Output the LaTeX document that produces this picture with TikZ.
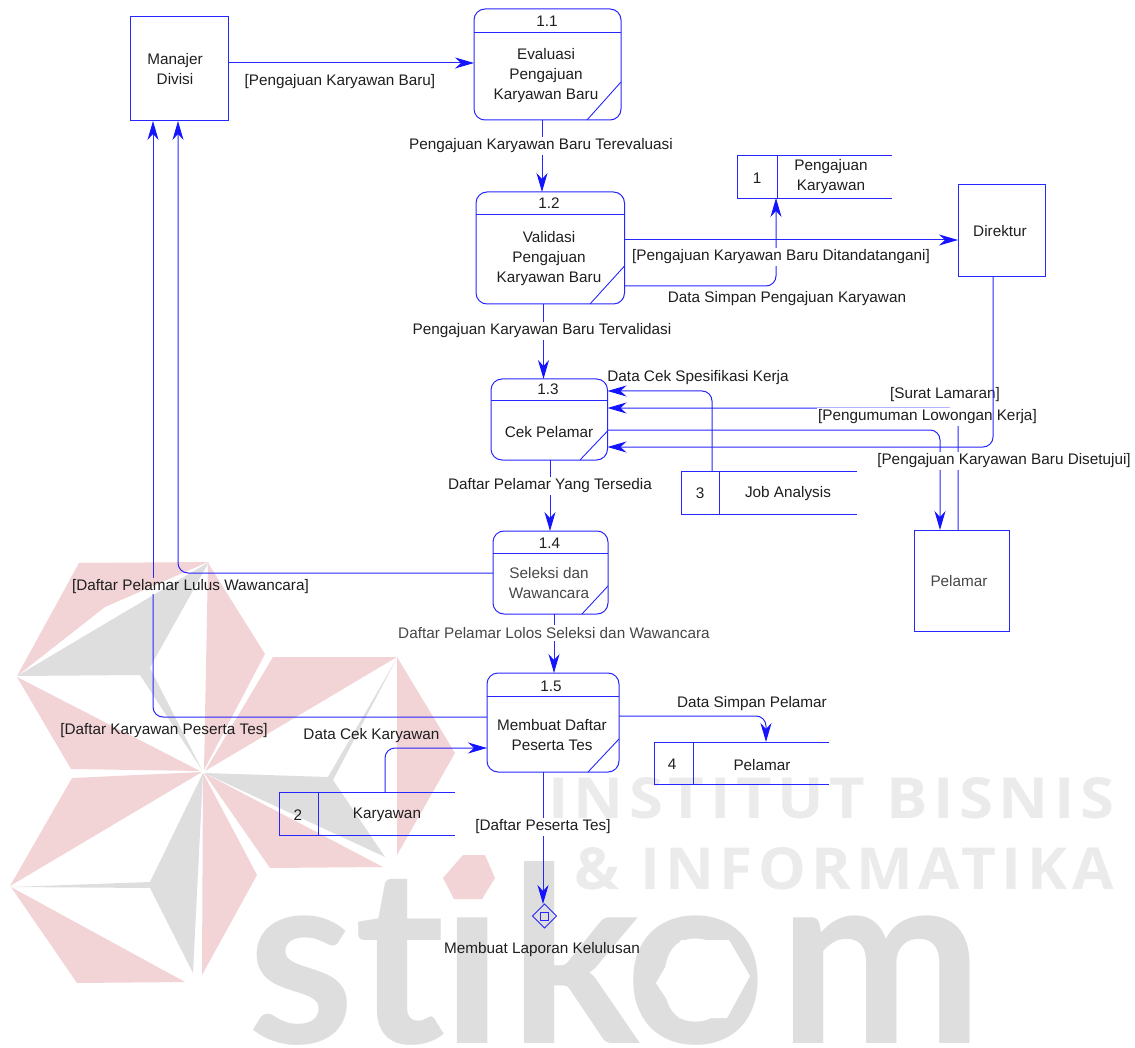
\documentclass[tikz,border=0pt]{standalone}
\usepackage{fontspec}
\usepackage{graphicx}
\setmainfont{Liberation Sans}
\newfontfamily\wmfont[LetterSpace=9]{Open Sans}
\newfontfamily\logofont{Lato}
\usetikzlibrary{arrows.meta,shapes.geometric,calc}
\definecolor{flowblue}{RGB}{38,38,255}
\definecolor{headblue}{RGB}{20,20,255}
\definecolor{wmred}{RGB}{242,211,214}
\definecolor{wmgrey}{RGB}{222,222,222}
\definecolor{wmtext}{RGB}{235,235,235}
\definecolor{txt}{RGB}{30,30,30}
\tikzset{
  every node/.style={inner sep=0pt,outer sep=0pt},
  lbl/.style={font=\fontsize{15.3}{20}\selectfont,text=txt,align=center,yshift=-1pt},
  lblw/.style={lbl,fill=white,inner xsep=1pt,inner ysep=2pt},
  dim/.style={lbl,text=black!72},
  ent/.style={draw=flowblue,line width=1pt},
  prc/.style={draw=flowblue,line width=1pt,rounded corners=11pt},
  part/.style={draw=flowblue,line width=.9pt},
  flow/.style={draw=flowblue,line width=1pt,rounded corners=10pt,
    -{Stealth[length=19pt,width=11pt,inset=6pt,color=headblue]}},
  flowplain/.style={draw=flowblue,line width=1pt,rounded corners=10pt},
}
% name, left, top, right, bottom, header y, diagonal y, diagonal x
\newcommand\procbox[8]{%
  \node[prc,minimum width={(#4-#2)*1pt},minimum height={(#5-#3)*1pt}] (#1) at ({(#2+#4)/2},{(#3+#5)/2}) {};
  \draw[part] (#2,#6) -- (#4,#6);
  \draw[part] (#4,#7) -- (#8,#5);
}
% name, left, top, right, bottom, divider x
\newcommand\storebox[6]{%
  \node[minimum width={(#4-#2)*1pt},minimum height={(#5-#3)*1pt}] (#1) at ({(#2+#4)/2},{(#3+#5)/2}) {};
  \draw[part] (#1.north east) -- (#1.north west) -- (#1.south west) -- (#1.south east);
  \draw[part] (#6,#3) -- (#6,#5);
}
\newcommand\logoglyph[2]{\makebox[#1pt][l]{#2}}
\begin{document}
\begin{tikzpicture}[x=1pt,y=-1pt]
\useasboundingbox (0,0) rectangle (1135,1048);
% ---------- watermark ----------
\fill[wmred] (17,676) -- (79,563) -- (208,562) -- (105,607) -- cycle;
\fill[wmgrey] (17,676) -- (209,562) -- (153,662) -- (150,668) -- (202,770) -- (140,675) -- cycle;
\fill[wmred] (208,563) -- (265,654) -- (204,770) -- cycle;
\fill[wmred] (273,657) -- (397,657) -- (205,771) -- cycle;
\fill[wmgrey] (397,658) -- (333,780) -- (385,857) -- (204,773) -- (328,777) -- cycle;
\fill[wmred] (397,657) -- (455,753) -- (397,855) -- cycle;
\fill[wmred] (204,773) -- (383,867) -- (270,868) -- cycle;
\fill[wmred] (203,773) -- (257,875) -- (202,975) -- cycle;
\fill[wmgrey] (203,773) -- (193,973) -- (150,888) -- (11,887) -- (150,882) -- cycle;
\fill[wmred] (11,887) -- (185,982) -- (77,983) -- cycle;
\fill[wmred] (10,886) -- (72,778) -- (202,772) -- cycle;
\fill[wmred] (17,677) -- (71,769) -- (200,771) -- cycle;
\node[anchor=base west,text=wmtext] (wm1) at (548,818) {\resizebox{566pt}{41pt}{\wmfont\bfseries INSTITUT BISNIS}};
\node[anchor=base west,text=wmtext] (wm2) at (574,889) {\resizebox{540pt}{42pt}{\wmfont\bfseries \& INFORMATIKA}};
\node[anchor=base west,text=wmgrey,font=\logofont\bfseries\fontsize{245}{245}\selectfont] (wm3) at (247,1043)
  {\logoglyph{107}{s}\logoglyph{87}{t}\logoglyph{69}{i}\logoglyph{115}{k}\logoglyph{153}{o}\logoglyph{220}{m}};
\fill[white] (681,940) -- (729,940) -- (750,976) -- (727,1018) -- (679,1018) -- (656,983) -- cycle;
\fill[white] (438,845) rectangle (505,905);
\fill[wmred] (463,855) -- (485,855) -- (495,878) -- (482,899) -- (454,899) -- (443,878) -- cycle;
% ---------- entities ----------
\node[ent,minimum width=98pt,minimum height=104pt] (m) at (179,69) {};
\node[lbl] (mt) at (175,68) {Manajer\\Divisi};
\node[ent,minimum width=87pt,minimum height=92pt] (dir) at (1001.5,231) {};
\node[lbl] (dirt) at (1000,230) {Direktur};
\node[ent,minimum width=95pt,minimum height=101pt] (pel) at (961.5,580.5) {};
\node[dim] (pelt) at (959,580) {Pelamar};
% ---------- processes ----------
\procbox{p11}{474}{9}{621}{120}{32}{82}{587}
\node[lbl] (p11n) at (547,20) {1.1};
\node[lbl] (p11t) at (546,75) {Evaluasi\\Pengajuan\\Karyawan Baru};
\procbox{p12}{476}{192}{624.5}{304}{214}{266}{590}
\node[lbl] (p12n) at (549,202) {1.2};
\node[lbl] (p12t) at (549,258) {Validasi\\Pengajuan\\Karyawan Baru};
\procbox{p13}{491}{379}{607.5}{460}{400}{431}{580}
\node[lbl] (p13n) at (548,388) {1.3};
\node[lbl] (p13t) at (549,431) {Cek Pelamar};
\procbox{p14}{493}{531}{608}{614}{553}{586}{582}
\node[lbl] (p14n) at (549.5,542) {1.4};
\node[dim] (p14t) at (549,582) {Seleksi dan\\Wawancara};
\procbox{p15}{487}{673}{619}{772}{696}{739}{588}
\node[lbl] (p15n) at (551,685) {1.5};
\node[lbl] (p15t) at (552,734) {Membuat Daftar\\Peserta Tes};
% ---------- stores ----------
\storebox{s1}{737}{155}{892}{198}{777}
\node[lbl] (s1n) at (757,177) {1};
\node[lbl] (s1t) at (831,176) {Pengajuan\\Karyawan};
\storebox{s2}{279}{792}{455}{835}{318.5}
\node[lbl] (s2n) at (298,814) {2};
\node[lbl] (s2t) at (387,814) {Karyawan};
\storebox{s3}{681}{471}{857}{514}{719}
\node[lbl] (s3n) at (700,492) {3};
\node[lbl] (s3t) at (788,493) {Job Analysis};
\storebox{s4}{654}{742}{829}{784}{693}
\node[lbl] (s4n) at (672,763) {4};
\node[lbl] (s4t) at (762,764) {Pelamar};
% ---------- off-page symbol ----------
\node[diamond,draw=flowblue,line width=.9pt,minimum width=24pt,minimum height=24pt] (d) at (544.5,916) {};
\node[draw=flowblue,line width=.9pt,minimum size=8pt] (ds) at (544.5,916) {};
% ---------- routing helpers ----------
\coordinate (colA) at (542,0);
\coordinate (colB) at (543.5,0);
\coordinate (colC) at (550,0);
\coordinate (colD) at (554,0);
\coordinate (colE) at (543,0);
\coordinate (colF) at (776,0);
\coordinate (colG) at (712,0);
\coordinate (colH) at (993,0);
\coordinate (colI) at (958,0);
\coordinate (colJ) at (940,0);
\coordinate (colK) at (153,0);
\coordinate (colL) at (178,0);
\coordinate (colM) at (385,0);
\coordinate (colN) at (766,0);
\coordinate (r63) at (0,63);
\coordinate (r240) at (0,240);
\coordinate (r286) at (0,286);
\coordinate (r391) at (0,391);
\coordinate (r408) at (0,408);
\coordinate (r430) at (0,430);
\coordinate (r447) at (0,447);
\coordinate (r573) at (0,573);
\coordinate (r716) at (0,716);
\coordinate (r717) at (0,717);
\coordinate (r748) at (0,748);
\coordinate (gapA) at (153,578);
\coordinate (gapB) at (153,594);
% ---------- connectors ----------
\draw[flow] (m.east |- r63) -- (p11.west |- r63);
\draw[flow] (p11.south -| colA) -- (p12.north -| colA);
\draw[flow] (p12.south -| colB) -- (p13.north -| colB);
\draw[flow] (p13.south -| colC) -- (p14.north -| colC);
\draw[flow] (p14.south -| colD) -- (p15.north -| colD);
\draw[flow] (p15.south -| colE) -- (d.north -| colE);
\draw[flow] (p12.east |- r240) -- (dir.west |- r240);
\draw[flow] (p12.east |- r286) -| (s1.south -| colF);
\draw[flow] (s3.north -| colG) |- (p13.east |- r391);
\draw[flow] (pel.north -| colI) |- (p13.east |- r408);
\draw[flow] (p13.east |- r430) -| (pel.north -| colJ);
\draw[flow] (p14.west |- r573) -| (m.south -| colL);
\draw[flowplain] (p15.west |- r717) -| (gapB);
\draw[flow] (gapA) -- (m.south -| colK);
\draw[flow] (s2.north -| colM) |- (p15.west |- r748);
\draw[flow] (p15.east |- r716) -| (s4.north -| colN);
% ---------- labels ----------
\node[lbl] (l1) at (340,81) {[Pengajuan Karyawan Baru]};
\node[lblw] (l2) at (541,145) {Pengajuan Karyawan Baru Terevaluasi};
\node[lblw] (l3) at (781,256) {[Pengajuan Karyawan Baru Ditandatangani]};
\node[lbl] (l4) at (787,298) {Data Simpan Pengajuan Karyawan};
\node[lblw] (l5) at (542,330) {Pengajuan Karyawan Baru Tervalidasi};
\node[lbl] (l6) at (698,377) {Data Cek Spesifikasi Kerja};
\node[lbl] (l7) at (945,394) {[Surat Lamaran]};
\node[lblw] (l8) at (927.5,416) {[Pengumuman Lowongan Kerja]};
\node[lblw] (l9) at (1004,460) {[Pengajuan Karyawan Baru Disetujui]};
\node[lblw] (l10) at (550,485) {Daftar Pelamar Yang Tersedia};
\node[lbl] (l11) at (190.5,586) {[Daftar Pelamar Lulus Wawancara]};
\node[lblw,text=black!72] (l12) at (554,632) {Daftar Pelamar Lolos Seleksi dan Wawancara};
\node[lbl] (l13) at (752,703) {Data Simpan Pelamar};
\node[lbl] (l14) at (164,730) {[Daftar Karyawan Peserta Tes]};
\node[lbl] (l15) at (371.5,735) {Data Cek Karyawan};
\node[lblw] (l16) at (543,826) {[Daftar Peserta Tes]};
\node[lbl] (l17) at (542,949) {Membuat Laporan Kelulusan};
% drawn over the labels, as in the reference
\draw[flow] (dir.south -| colH) |- (p13.east |- r447);
\end{tikzpicture}
\end{document}
